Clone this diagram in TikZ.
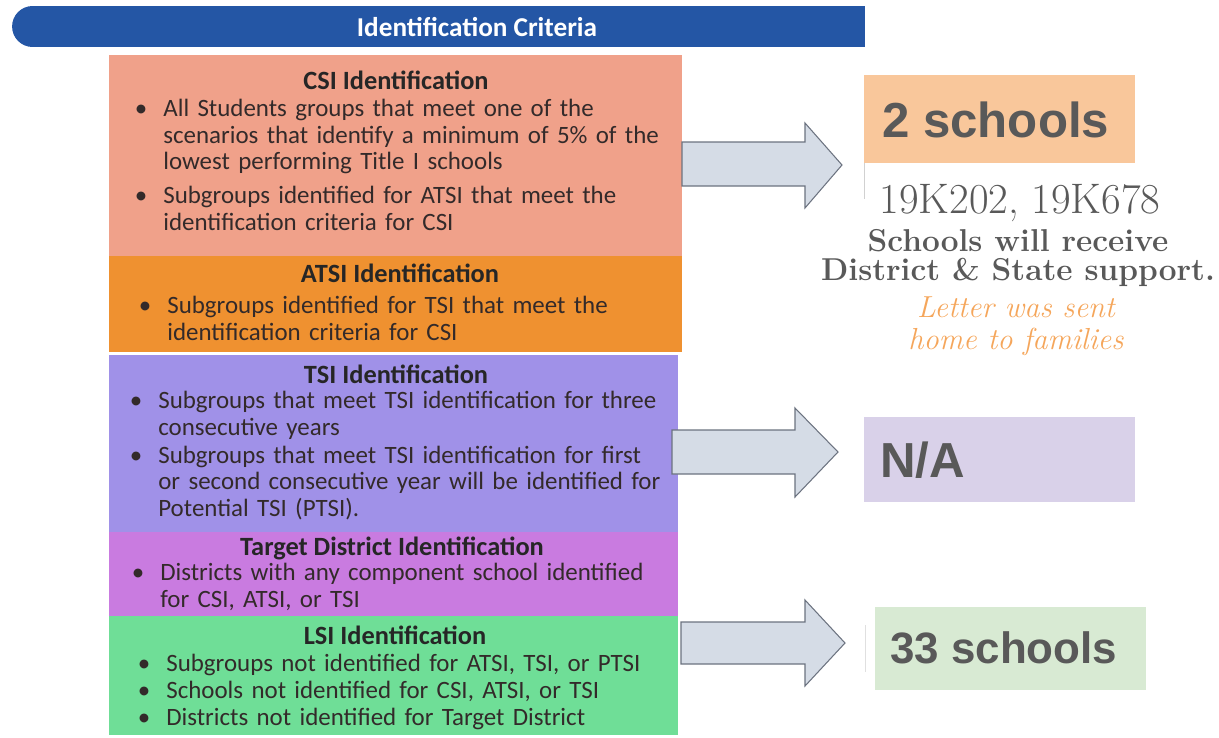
\documentclass[tikz,border=0pt]{standalone}
\usepackage{fontspec}
\usepackage{enumitem}
\newfontfamily\boxfont{Carlito}
\newfontfamily\numfont{Liberation Sans}
\usetikzlibrary{positioning, shapes.misc}
\definecolor{bannerblue}{HTML}{2456A5}
\definecolor{csicol}{HTML}{F0A18A}
\definecolor{atsicol}{HTML}{EF9130}
\definecolor{tsicol}{HTML}{A091E8}
\definecolor{tdcol}{HTML}{C97BE0}
\definecolor{lsicol}{HTML}{6FDE97}
\definecolor{arrfill}{HTML}{D5DCE6}
\definecolor{arrline}{HTML}{6C7380}
\definecolor{twocol}{HTML}{F9C79B}
\definecolor{nacol}{HTML}{D9D1E9}
\definecolor{lsires}{HTML}{D8EAD3}
\definecolor{numtext}{HTML}{595959}
\definecolor{lettercol}{HTML}{F5A65B}
\definecolor{bodytext}{HTML}{332A2A}
\setlist[itemize]{label=\textbullet, leftmargin=0.5cm, labelsep=0.32cm, itemsep=0pt, topsep=0pt, parsep=0pt, partopsep=0pt}
\tikzset{
  critbox/.style={anchor=north west, inner sep=0pt, outer sep=0pt, minimum width=11.46cm},
  crittitle/.style={font=\boxfont\bfseries\fontsize{15}{16}\selectfont, text=black!85},
  critlist/.style={anchor=north west, inner sep=0pt, text width=11cm, align=left,
    font=\boxfont\fontsize{14.2}{15.3}\selectfont, text=bodytext},
  resbox/.style={anchor=north west, inner sep=0pt, outer sep=0pt, minimum width=5.42cm},
  resnum/.style={anchor=west, font=\numfont\bfseries\fontsize{28}{30}\selectfont, text=numtext},
  blockarrow/.style={fill=arrfill, draw=arrline, line width=0.6pt, line join=miter}
}
\begin{document}
\begin{tikzpicture}[x=0.02cm, y=-0.02cm]
  \useasboundingbox (0,0) rectangle (1219,737);
  \node (banner) [rounded rectangle, rounded rectangle right arc=none, fill=bannerblue,
    minimum width=17.06cm, minimum height=0.82cm, inner sep=0pt] at (438.5,26.5) {};
  \node (bannertext) at (477,27) {\boxfont\bfseries\fontsize{15.5}{17}\selectfont\color{white}Identification Criteria};

  % criteria boxes
  \node (csi) [critbox, fill=csicol, minimum height=4.02cm] at (109,55) {};
  \node (atsi) [critbox, fill=atsicol, minimum height=1.92cm] at (109,256) {};
  \node (tsi) [critbox, fill=tsicol, minimum height=3.54cm, minimum width=11.38cm] at (109,355) {};
  \node (td) [critbox, fill=tdcol, minimum height=1.68cm, minimum width=11.38cm] at (109,532) {};
  \node (lsi) [critbox, fill=lsicol, minimum height=2.38cm, minimum width=11.38cm] at (109,616) {};

  \node (csititle) [crittitle] at (396,80) {CSI Identification};
  \node (csilist) [critlist] at (138,89) {\begin{itemize}[itemsep=4pt]
    \item All Students groups that meet one of the\\ scenarios that identify a minimum of 5\% of the\\ lowest performing Title I schools
    \item Subgroups identified for ATSI that meet the\\ identification criteria for CSI
  \end{itemize}};

  \node (atsititle) [crittitle] at (400,273) {ATSI Identification};
  \node (atsilist) [critlist] at (142,286) {\begin{itemize}
    \item Subgroups identified for TSI that meet the\\ identification criteria for CSI
  \end{itemize}};

  \node (tsititle) [crittitle] at (396,374) {TSI Identification};
  \node (tsilist) [critlist] at (133,381) {\begin{itemize}[itemsep=0.6pt]
    \item Subgroups that meet TSI identification for three\\ consecutive years
    \item Subgroups that meet TSI identification for first\\ or second consecutive year will be identified for\\ Potential TSI (PTSI).
  \end{itemize}};

  \node (tdtitle) [crittitle] at (392,548) {Target District Identification};
  \node (tdlist) [critlist] at (135,553) {\begin{itemize}
    \item Districts with any component school identified\\ for CSI, ATSI, or TSI
  \end{itemize}};

  \node (lsititle) [crittitle] at (395,635) {LSI Identification};
  \node (lsilist) [critlist] at (141,644) {\begin{itemize}
    \item Subgroups not identified for ATSI, TSI, or PTSI
    \item Schools not identified for CSI, ATSI, or TSI
    \item Districts not identified for Target District
  \end{itemize}};

  % arrows
  \draw [blockarrow] (682,142) -- (805,142) -- (805,123) -- (842,165) -- (805,208) -- (805,186) -- (682,186) -- cycle;
  \draw [blockarrow] (672,430) -- (795,430) -- (795,408) -- (838,452) -- (795,497) -- (795,474) -- (672,474) -- cycle;
  \draw [blockarrow] (681,622) -- (805,622) -- (805,600) -- (845,643) -- (805,686) -- (805,664) -- (681,664) -- cycle;

  % results
  \node (two) [resbox, fill=twocol, minimum height=1.76cm] at (864,75) {};
  \node (twotext) [resnum] at (876,120) {2 schools};
  \draw [black!18, line width=0.4pt] (two.south west) -- ++(0,36);
  \node (codes) at (1020,203) {\fontsize{24.3}{26}\selectfont\color{numtext}19K202, 19K678};
  \node (support) at (1018,258) [align=center, font=\bfseries\fontsize{18}{17}\selectfont, text=numtext]
    {Schools will receive\\ District \& State support.};
  \node (letter) at (1016,326) [align=center, font=\itshape\fontsize{17.3}{18}\selectfont, text=lettercol]
    {Letter was sent\\ home to families};

  \node (na) [resbox, fill=nacol, minimum height=1.7cm] at (864,417) {};
  \node (natext) [resnum] at (874,460) {N/A};

  \node (lsires) [resbox, fill=lsires, minimum height=1.66cm] at (875,607) {};
  \node (lsirestext) [resnum, font=\numfont\bfseries\fontsize{25}{27}\selectfont] at (884,648) {33 schools};
  \draw [black!12, line width=0.4pt] (865,625) -- (865,672);
\end{tikzpicture}
\end{document}
